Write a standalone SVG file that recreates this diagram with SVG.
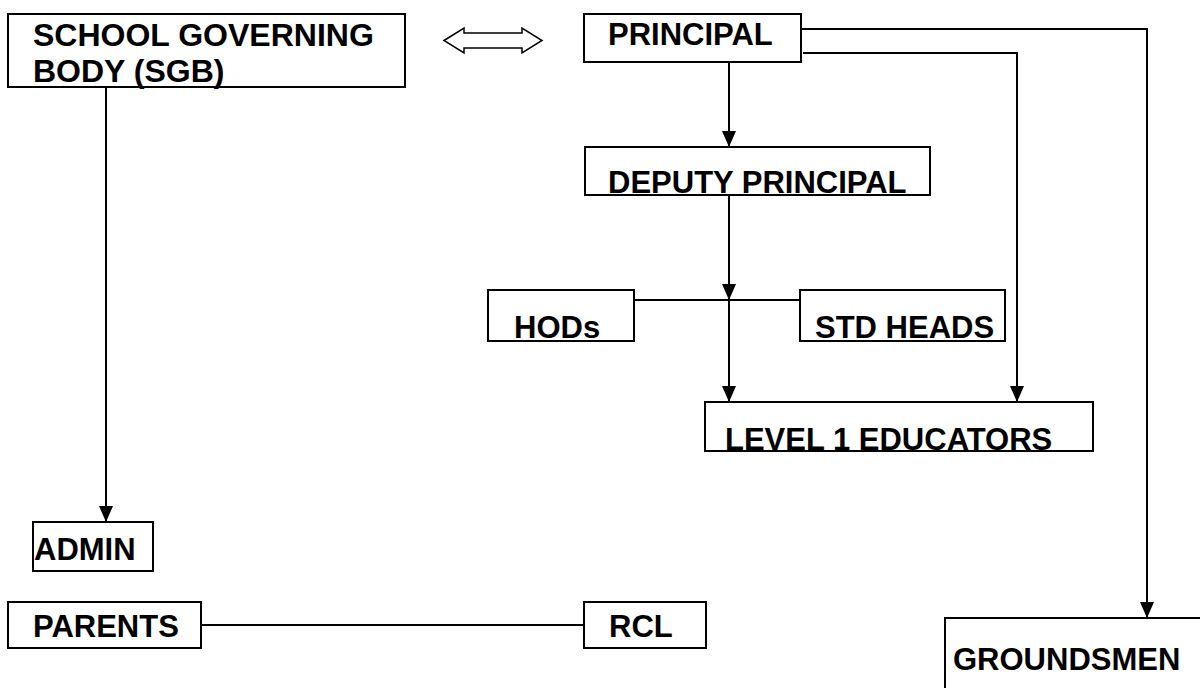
<svg xmlns="http://www.w3.org/2000/svg" width="1200" height="688" viewBox="0 0 1200 688">
<style>
.box{fill:#fff;stroke:#000;stroke-width:2}
.t{font-family:"Liberation Sans",Arial,sans-serif;font-weight:bold;font-size:31px;fill:#000}
.c{fill:none;stroke:#000;stroke-width:2}
</style>
<defs>
<marker id="ah" markerUnits="userSpaceOnUse" markerWidth="16" markerHeight="14" viewBox="0 0 16 14" refX="16" refY="7" orient="auto">
<path d="M0,0 L16,7 L0,14 z" fill="#000"/>
</marker>
</defs>
<rect width="1200" height="688" fill="#fff"/>
<g id="connectors">
<path class="c" d="M106,87 V522" marker-end="url(#ah)"/>
<path class="c" d="M729,62 V147" marker-end="url(#ah)"/>
<path class="c" d="M729,195 V300" marker-end="url(#ah)"/>
<path class="c" d="M634,300 H800"/>
<path class="c" d="M729,300 V402" marker-end="url(#ah)"/>
<path class="c" d="M803,53 H1017 V402" marker-end="url(#ah)"/>
<path class="c" d="M801,29 H1147 V618" marker-end="url(#ah)"/>
<path class="c" d="M201,625 H584"/>
<polygon points="444,40.5 464,28 464,33 522,33 522,28 542,40.5 522,53 522,48 464,48 464,53" fill="#fff" stroke="#000" stroke-width="1.5"/>
</g>
<g id="sgb">
<rect class="box" x="8" y="14" width="397" height="73"/>
<text class="t" style="font-size:32px" x="33" y="46">SCHOOL GOVERNING</text>
<text class="t" style="font-size:32px" x="33" y="82">BODY (SGB)</text>
</g>
<g id="principal">
<rect class="box" x="584" y="14" width="217" height="48"/>
<text class="t" x="608" y="45">PRINCIPAL</text>
</g>
<g id="deputy">
<rect class="box" x="585" y="147" width="345" height="48"/>
<text class="t" x="608" y="193">DEPUTY PRINCIPAL</text>
</g>
<g id="hods">
<rect class="box" x="488" y="290" width="146" height="51"/>
<text class="t" x="514" y="338">HODs</text>
</g>
<g id="std">
<rect class="box" x="800" y="290" width="205" height="51"/>
<text class="t" x="815" y="338">STD HEADS</text>
</g>
<g id="level1">
<rect class="box" x="705" y="402" width="388" height="49"/>
<text class="t" x="725" y="450">LEVEL 1 EDUCATORS</text>
</g>
<g id="admin">
<rect class="box" x="33" y="522" width="120" height="49"/>
<text class="t" x="34" y="560">ADMIN</text>
</g>
<g id="parents">
<rect class="box" x="8" y="602" width="193" height="46"/>
<text class="t" x="33" y="637">PARENTS</text>
</g>
<g id="rcl">
<rect class="box" x="584" y="602" width="122" height="46"/>
<text class="t" x="609" y="637">RCL</text>
</g>
<g id="groundsmen">
<rect class="box" x="945" y="618" width="265" height="80"/>
<text class="t" x="953" y="670">GROUNDSMEN</text>
</g>
</svg>
